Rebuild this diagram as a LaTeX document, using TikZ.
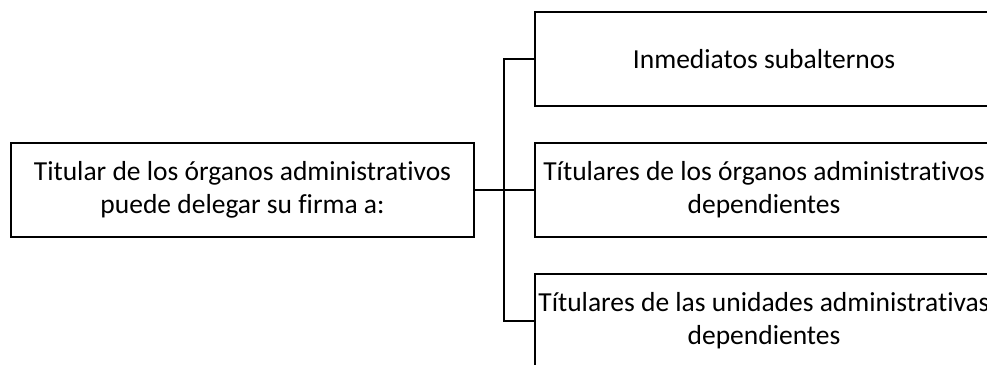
\documentclass[tikz,border=0pt]{standalone}
\usepackage{fontspec}
\setmainfont[Ligatures=NoCommon]{Carlito}
\begin{document}
\begin{tikzpicture}[x=1pt,y=-1pt,
  box/.style={draw=black,line width=2pt,minimum width=%
    #1,minimum height=94pt,align=center,inner sep=0pt,
    font=\fontsize{27.5}{33}\selectfont},
  conn/.style={draw=black,line width=2pt}]
\useasboundingbox (0,0) rectangle (987,364);
\clip (0,0) rectangle (987,364);
\node[box=463pt] (root) at (242.5,190) {Titular de los órganos administrativos\\puede delegar su firma a:};
\node[box=458pt] (b1) at (764,59) {Inmediatos subalternos};
\node[box=458pt] (b2) at (764,190) {Títulares de los órganos administrativos\\dependientes};
\node[box=458pt] (b3) at (764,321) {Títulares de las unidades administrativas\\dependientes};
\coordinate (t) at (504,190);
\draw[conn] (root.east) -- (b2.west);
\draw[conn] (b1.west) -- (b1.west -| t) -- (b3.west -| t) -- (b3.west);
\end{tikzpicture}
\end{document}
